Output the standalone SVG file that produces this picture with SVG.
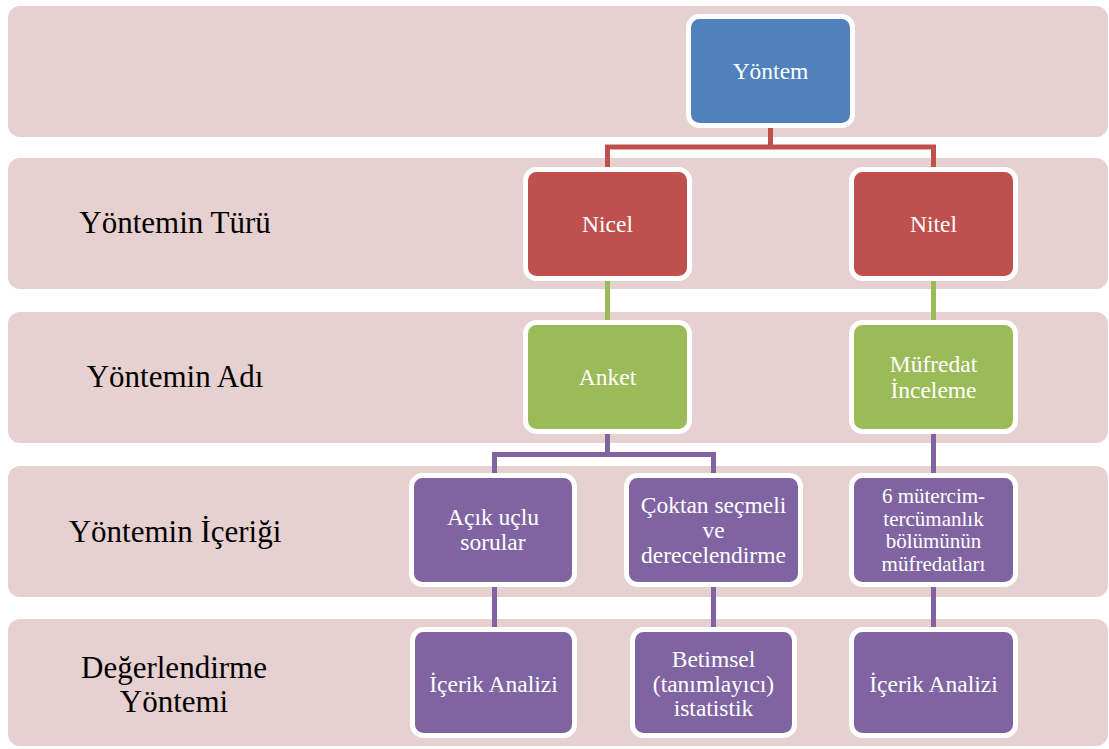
<svg xmlns="http://www.w3.org/2000/svg" width="1109" height="749" viewBox="0 0 1109 749">
<style>
.band{fill:#E7D0D0}
.node{stroke:#FFFFFF;stroke-width:5}
.blue{fill:#4F81BD}.red{fill:#C0504D}.green{fill:#9BBB59}.purple{fill:#8064A2}
.nt{font-family:"Liberation Serif","Times New Roman",serif;font-size:23.5px;fill:#FFFFFF;text-anchor:middle}
.sm{font-size:21px}
.lt{font-family:"Liberation Serif","Times New Roman",serif;font-size:31px;fill:#000000;text-anchor:middle}
.c{fill:none;stroke-width:5}
</style>
<rect width="1109" height="749" fill="#FFFFFF"/>
<g id="bands">
<rect class="band" x="8" y="6" width="1100" height="131" rx="12"/>
<rect class="band" x="8" y="158" width="1100" height="131" rx="12"/>
<rect class="band" x="8" y="312" width="1100" height="131" rx="12"/>
<rect class="band" x="8" y="466" width="1100" height="131" rx="12"/>
<rect class="band" x="8" y="619" width="1100" height="127" rx="12"/>
</g>
<g id="row-labels">
<text class="lt" x="175" y="233">Yöntemin Türü</text>
<text class="lt" x="175" y="387">Yöntemin Adı</text>
<text class="lt" x="175" y="542">Yöntemin İçeriği</text>
<text class="lt" x="174" y="678">Değerlendirme</text>
<text class="lt" x="174" y="712">Yöntemi</text>
</g>
<g id="connectors">
<path class="c" stroke="#C0504D" d="M607.5 170 V147 H933.5 V170 M770.5 126 V147"/>
<path class="c" stroke="#9BBB59" d="M607.5 279 V323 M933.5 279 V323"/>
<path class="c" stroke="#8064A2" d="M607.5 432 V454.5 M494.5 476 V454.5 H713.5 V476 M933.5 432 V476"/>
<path class="c" stroke="#8064A2" d="M494.5 585 V630 M713.5 585 V630 M933.5 585 V630"/>
</g>
<g id="n-yontem">
<rect class="node blue" x="688.5" y="16.5" width="164" height="109" rx="11"/>
<text class="nt" x="770.5" y="79">Yöntem</text>
</g>
<g id="n-nicel">
<rect class="node red" x="525.5" y="169.5" width="164" height="109" rx="11"/>
<text class="nt" x="607.5" y="232">Nicel</text>
</g>
<g id="n-nitel">
<rect class="node red" x="851.5" y="169.5" width="164" height="109" rx="11"/>
<text class="nt" x="933.5" y="232">Nitel</text>
</g>
<g id="n-anket">
<rect class="node green" x="525.5" y="322.5" width="164" height="109" rx="11"/>
<text class="nt" x="607.5" y="385">Anket</text>
</g>
<g id="n-mufredat">
<rect class="node green" x="851.5" y="322.5" width="164" height="109" rx="11"/>
<text class="nt" x="933.5" y="372">Müfredat</text>
<text class="nt" x="933.5" y="398">İnceleme</text>
</g>
<g id="n-acik">
<rect class="node purple" x="411.5" y="475.5" width="163" height="109" rx="11"/>
<text class="nt" x="493" y="525">Açık uçlu</text>
<text class="nt" x="493" y="550">sorular</text>
</g>
<g id="n-coktan">
<rect class="node purple" x="626.5" y="475.5" width="174" height="109" rx="11"/>
<text class="nt" x="713.5" y="513">Çoktan seçmeli</text>
<text class="nt" x="713.5" y="538">ve</text>
<text class="nt" x="713.5" y="563">derecelendirme</text>
</g>
<g id="n-mutercim">
<rect class="node purple" x="851.5" y="475.5" width="164" height="109" rx="11"/>
<text class="nt sm" x="933.5" y="503">6 mütercim-</text>
<text class="nt sm" x="933.5" y="526">tercümanlık</text>
<text class="nt sm" x="933.5" y="548">bölümünün</text>
<text class="nt sm" x="933.5" y="571">müfredatları</text>
</g>
<g id="n-icerik1">
<rect class="node purple" x="412.5" y="629.5" width="162" height="106" rx="11"/>
<text class="nt" x="493.5" y="692">İçerik Analizi</text>
</g>
<g id="n-betimsel">
<rect class="node purple" x="632.5" y="629.5" width="162" height="106" rx="11"/>
<text class="nt" x="713.5" y="667">Betimsel</text>
<text class="nt" x="713.5" y="692">(tanımlayıcı)</text>
<text class="nt" x="713.5" y="716">istatistik</text>
</g>
<g id="n-icerik2">
<rect class="node purple" x="851.5" y="629.5" width="164" height="106" rx="11"/>
<text class="nt" x="933.5" y="692">İçerik Analizi</text>
</g>
</svg>
